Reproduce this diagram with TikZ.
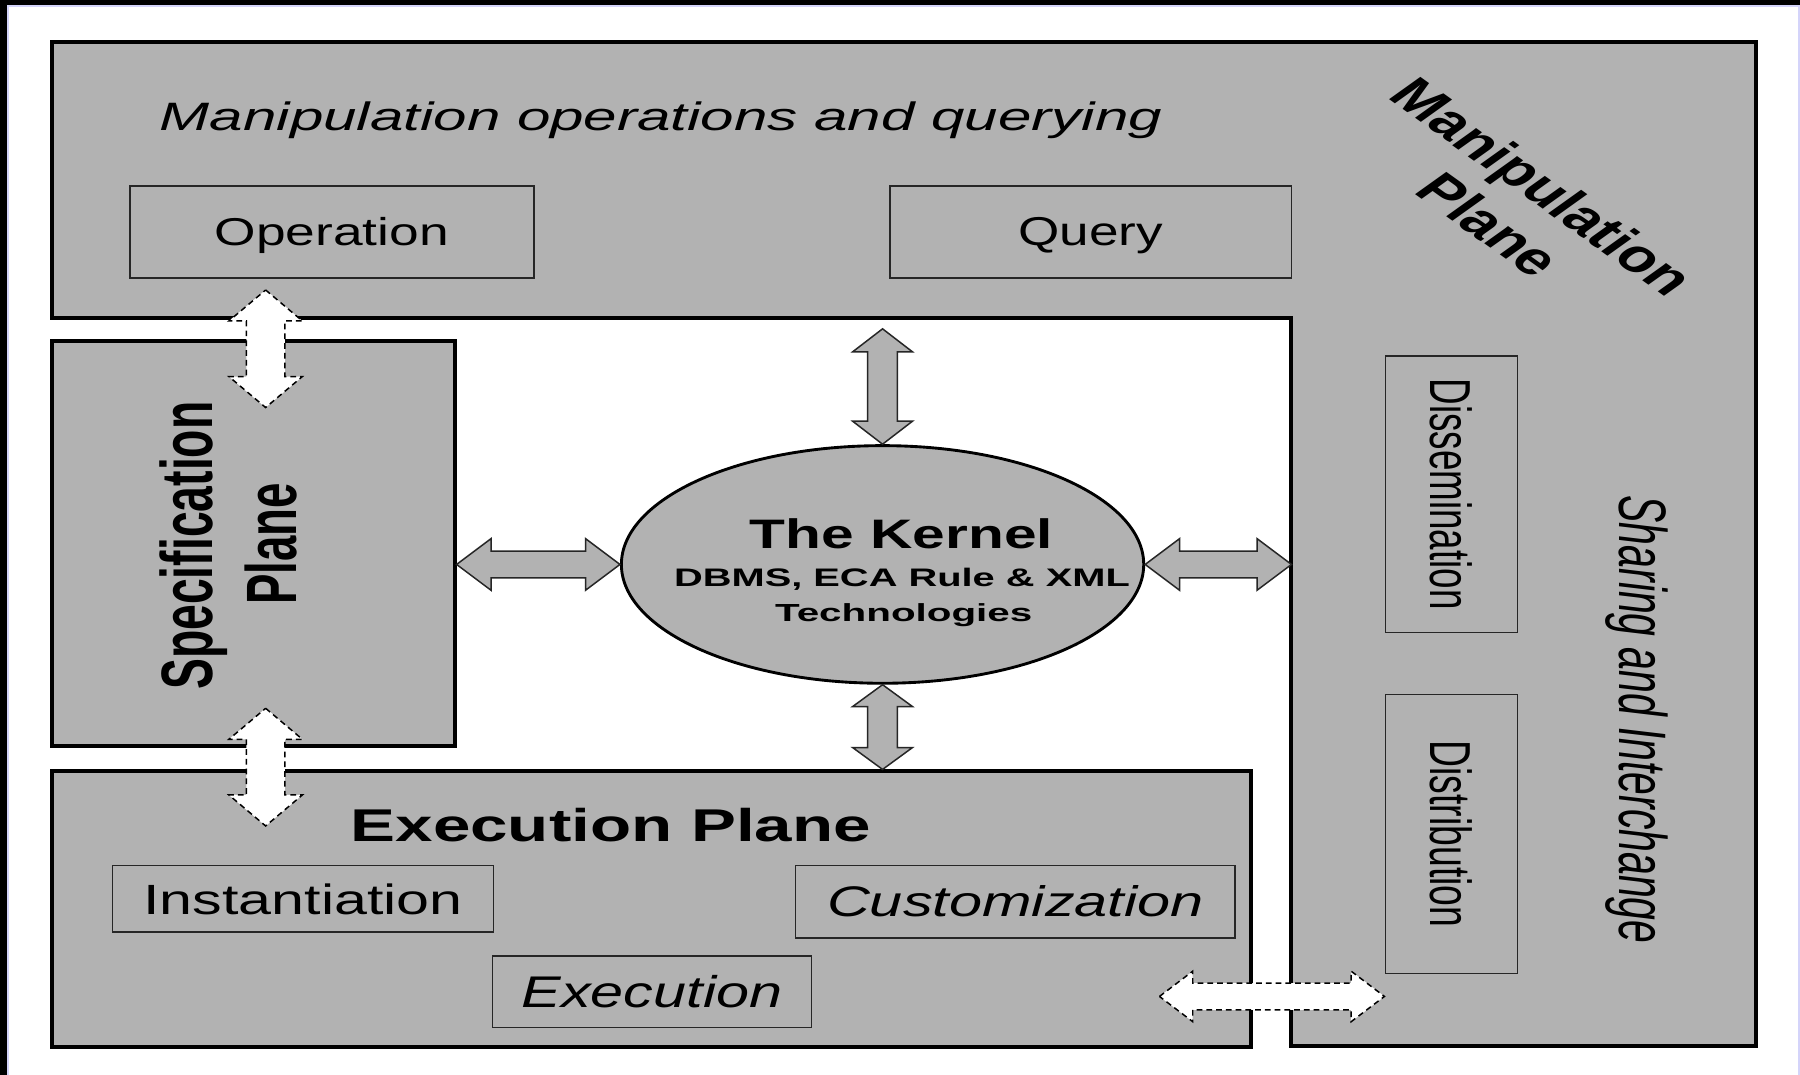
\documentclass[tikz,border=0pt]{standalone}
\usepackage{fontspec}
\setmainfont{Liberation Sans}
\usepackage{graphicx}
\usetikzlibrary{shapes.geometric,calc}
\definecolor{planegray}{RGB}{178,178,178}
\definecolor{lav}{RGB}{212,212,250}
\newcommand\fitt[3]{\resizebox{#1pt}{#2pt}{#3}}
% vertical double block arrow: style, top point, bottom point, shaft half width, head half width, head length
\newcommand\varrow[6]{\draw[#1] let \p1=(#2), \p2=(#3) in
  (\x1,\y1) -- (\x1+#5,\y1-#6) -- (\x1+#4,\y1-#6) -- (\x1+#4,\y2+#6) -- (\x1+#5,\y2+#6)
  -- (\x1,\y2) -- (\x1-#5,\y2+#6) -- (\x1-#4,\y2+#6) -- (\x1-#4,\y1-#6) -- (\x1-#5,\y1-#6) -- cycle;}
% horizontal double block arrow: style, left point, right point, shaft half height, head half height, head length
\newcommand\harrow[6]{\draw[#1] let \p1=(#2), \p2=(#3) in
  (\x1,\y1) -- (\x1+#6,\y1+#5) -- (\x1+#6,\y1+#4) -- (\x2-#6,\y1+#4) -- (\x2-#6,\y1+#5)
  -- (\x2,\y1) -- (\x2-#6,\y1-#5) -- (\x2-#6,\y1-#4) -- (\x1+#6,\y1-#4) -- (\x1+#6,\y1-#5) -- cycle;}
\begin{document}
\begin{tikzpicture}[x=1pt,y=-1pt,
  plane/.style={draw=black, line width=3.5pt, fill=planegray, line join=miter},
  planebox/.style={plane, rectangle, inner sep=0pt},
  inbox/.style={draw=black!85, line width=1.5pt, fill=planegray, rectangle, inner sep=0pt, text depth=0pt},
  lbl/.style={inner sep=0pt, anchor=base west},
  grayarrow/.style={draw=black!85, line width=1.3pt, fill=planegray, line join=miter},
  dasharrow/.style={draw=black, line width=1.3pt, fill=white, dash pattern=on 5pt off 3.5pt},
]
\useasboundingbox (0,0) rectangle (1568,936);
\fill[white] (0,0) rectangle (1568,936);
% outer frame
\fill[black] (0,0) rectangle (1568,4.5);
\fill[black] (0,0) rectangle (6.3,936);
\draw[lav, line width=1.2pt] (7,936) -- (7,5.3) -- (1568,5.3);
\draw[lav, line width=1.2pt] (1567.2,5.3) -- (1567.2,936);

% Manipulation plane (L shape)
\coordinate (mA) at (45,37);
\coordinate (mB) at (1530,37);
\coordinate (mC) at (1530,911.5);
\coordinate (mD) at (1125,911.5);
\coordinate (mE) at (1125,277);
\coordinate (mF) at (45,277);
\draw[plane] (mA) -- (mB) -- (mC) -- (mD) -- (mE) -- (mF) -- cycle;

% Specification and execution planes
\node[planebox, minimum width=351pt, minimum height=353pt] (spec) at (220.5,473.5) {};
\node[planebox, minimum width=1045pt, minimum height=240pt] (exec) at (567.5,792) {};

% inner boxes
\node[inbox, minimum width=352pt, minimum height=80pt] (op) at (289,202) {\fitt{204}{24.5}{Operation}};
\node[inbox, minimum width=350pt, minimum height=80pt] (query) at (950,202) {\fitt{126}{24.5}{Query}};
\node[inbox, minimum width=332pt, minimum height=58pt] (inst) at (264,783) {\fitt{278}{26.7}{Instantiation}};
\node[inbox, minimum width=383pt, minimum height=63pt] (cust) at (884.5,785.5) {\raisebox{1.5pt}{\fitt{328}{27}{\itshape Customization}}};
\node[inbox, minimum width=278pt, minimum height=62pt] (exe) at (568,864) {\fitt{227}{28}{\itshape Execution}};
\node[inbox, rotate=-90, minimum width=241pt, minimum height=115pt] (diss) at (1264.5,430.5) {\fitt{201}{36.5}{Dissemination}};
\node[inbox, rotate=-90, minimum width=243pt, minimum height=115pt] (dist) at (1264.5,726.5) {\fitt{162.5}{36.5}{Distribution}};

% kernel
\node[ellipse, draw=black, line width=2.5pt, fill=planegray, minimum width=455pt, minimum height=207pt, inner sep=0pt] (ker) at (768.8,491.7) {};
\node[lbl] (k1) at (653,477.6) {\fitt{264}{26}{\bfseries The Kernel}};
\node[lbl] (k2) at (587,511) {\fitt{397}{16}{\bfseries DBMS, ECA Rule \& XML}};
\node[lbl] (k3) at (675,541.5) {\fitt{224}{15.6}{\bfseries Technologies}};

% plane labels
\node[lbl] (mtitle) at (139,113.4) {\fitt{873}{25}{\itshape Manipulation operations and querying}};
\begin{scope}[shift={(1321,179)}, xscale=1.4]
  \node[rotate=-45, transform shape, align=center, inner sep=0pt,
        font=\bfseries\fontsize{40}{47}\selectfont] (mplabel) at (0,0) {Manipulation\\Plane};
\end{scope}
\node[lbl, rotate=90] (spec1) at (184.7,601) {\fitt{251}{46}{\bfseries Specification}};
\node[lbl, rotate=90] (spec2) at (258.6,527) {\fitt{106}{45}{\bfseries Plane}};
\node[lbl] (exlbl) at (305.3,733.2) {\fitt{453}{29}{\bfseries Execution Plane}};
\node[lbl, rotate=-90] (shlbl) at (1410.7,431.6) {\fitt{390}{42.4}{\itshape Sharing and Interchange}};

% gray double arrows around the kernel
\coordinate (ta) at ($(ker.north)+(0,-100.5)$);
\varrow{grayarrow}{ta}{ker.north}{13pt}{26pt}{20pt}
\varrow{grayarrow}{ker.south}{ker.south |- exec.north}{13pt}{26pt}{19pt}
\harrow{grayarrow}{spec.east |- ker.west}{ker.west}{11.6pt}{22.5pt}{30pt}
\harrow{grayarrow}{ker.east}{mE |- ker.east}{11.6pt}{22.5pt}{30pt}

% dashed white double arrows
\coordinate (d1t) at (231.4,252.6);
\coordinate (d1b) at (231.4,355);
\coordinate (d2t) at (231.4,617);
\coordinate (d2b) at (231.4,719.5);
\coordinate (d3l) at (1010,868);
\coordinate (d3r) at (1206,868);
\varrow{dasharrow}{d1t}{d1b}{16.7pt}{32pt}{27pt}
\varrow{dasharrow}{d2t}{d2b}{16.7pt}{32pt}{27pt}
\harrow{dasharrow}{d3l}{d3r}{11.6pt}{22pt}{29pt}
\end{tikzpicture}
\end{document}
